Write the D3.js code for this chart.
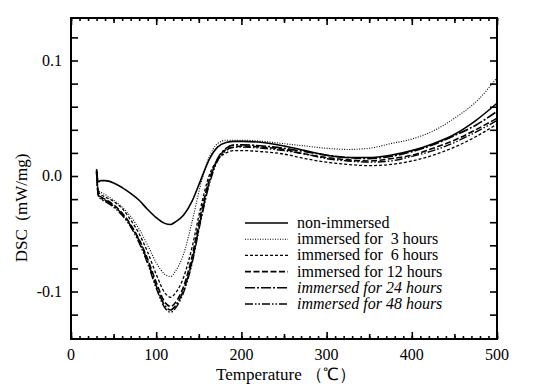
<!DOCTYPE html>
<html>
<head>
<meta charset="utf-8">
<script src="https://cdn.jsdelivr.net/npm/d3@7"></script>
<style>
  body { margin: 0; background: #fff; }
</style>
</head>
<body>
<div class="chart"></div>
<script>
var margin = {top: 18, right: 37, bottom: 45, left: 71};
var width = 534 - margin.left - margin.right;
var height = 384 - margin.top - margin.bottom;
var serif = 'Liberation Serif';

var temps = [30, 32, 35, 40, 50, 60, 70, 80, 90, 100, 110, 117, 122, 132, 142, 152,
             162, 172, 182, 192, 202, 225, 250, 275, 300, 325, 350, 375, 400, 425, 450, 475, 500];

var nonImmersed = [0.006, -0.005, -0.004, -0.004, -0.006, -0.010, -0.015, -0.021, -0.029, -0.036,
                   -0.041, -0.042, -0.040, -0.034, -0.022, -0.004, 0.014, 0.025, 0.029, 0.030, 0.030,
                   0.029, 0.026, 0.022, 0.018, 0.016, 0.016, 0.018, 0.022, 0.028, 0.036, 0.048, 0.063];
var hours3 = [0.004, -0.012, -0.014, -0.016, -0.021, -0.027, -0.035, -0.046, -0.060, -0.075,
              -0.085, -0.087, -0.083, -0.068, -0.040, -0.008, 0.016, 0.028, 0.031, 0.031, 0.031,
              0.030, 0.028, 0.026, 0.024, 0.023, 0.024, 0.028, 0.032, 0.039, 0.050, 0.064, 0.085];
var hours6 = [0.004, -0.013, -0.016, -0.018, -0.022, -0.028, -0.038, -0.050, -0.066, -0.085,
              -0.101, -0.105, -0.102, -0.088, -0.062, -0.028, 0.000, 0.014, 0.020, 0.022, 0.022,
              0.021, 0.019, 0.015, 0.012, 0.010, 0.009, 0.010, 0.013, 0.018, 0.025, 0.034, 0.045];
var hours12 = [0.004, -0.015, -0.018, -0.020, -0.025, -0.032, -0.042, -0.055, -0.072, -0.092,
               -0.109, -0.113, -0.110, -0.096, -0.070, -0.034, -0.004, 0.014, 0.023, 0.025, 0.026,
               0.025, 0.023, 0.019, 0.016, 0.014, 0.013, 0.015, 0.018, 0.024, 0.031, 0.040, 0.050];
var hours24 = [0.004, -0.016, -0.019, -0.021, -0.026, -0.033, -0.043, -0.056, -0.074, -0.095,
               -0.112, -0.116, -0.113, -0.099, -0.074, -0.038, -0.006, 0.015, 0.024, 0.027, 0.027,
               0.026, 0.024, 0.021, 0.018, 0.016, 0.015, 0.017, 0.021, 0.027, 0.035, 0.044, 0.056];
var hours48 = [0.004, -0.017, -0.020, -0.022, -0.027, -0.034, -0.044, -0.058, -0.076, -0.097,
               -0.114, -0.118, -0.115, -0.101, -0.076, -0.040, -0.008, 0.013, 0.022, 0.025, 0.025,
               0.024, 0.022, 0.019, 0.015, 0.013, 0.012, 0.013, 0.017, 0.022, 0.029, 0.038, 0.048];

var labels = ['non-immersed', 'immersed for  3 hours', 'immersed for  6 hours',
              'immersed for 12 hours', 'immersed for 24 hours', 'immersed for 48 hours'];

var xTickValues = [0, 100, 200, 300, 400, 500];
var yTickValues = [0.1, 0, -0.1];

var series = [
  {name: labels[0], values: nonImmersed, dash: null, w: 1.6, italic: false},
  {name: labels[1], values: hours3, dash: '1,1.5', w: 1.1, italic: false},
  {name: labels[2], values: hours6, dash: '3,2', w: 1.3, italic: false},
  {name: labels[3], values: hours12, dash: '6,2.5', w: 1.6, italic: false},
  {name: labels[4], values: hours24, dash: '10,2,2,2', w: 1.6, italic: true},
  {name: labels[5], values: hours48, dash: '8,2,1.5,2,1.5,2', w: 1.4, italic: true}
];

var x = d3.scaleLinear().domain([0, 500]).range([0, width]);
var y = d3.scaleLinear().domain([-0.1411, 0.1368]).range([height, 0]);

var svg = d3.select('div.chart').append('svg')
    .attr('width', 534)
    .attr('height', 384)
  .append('g')
    .attr('transform', 'translate(' + margin.left + ',' + margin.top + ')');

// frame first
svg.append('rect')
    .attr('width', width).attr('height', height)
    .attr('fill', 'none').attr('stroke', '#000').attr('stroke-width', 2);

// curves
var line = d3.line()
    .x(d => x(d[0]))
    .y(d => y(d[1]))
    .curve(d3.curveMonotoneX);

svg.selectAll('path.curve').data(series).enter().append('path')
    .attr('class', 'curve')
    .attr('d', s => line(temps.map((t, i) => [t, s.values[i]])))
    .attr('fill', 'none')
    .attr('stroke', '#000')
    .attr('stroke-width', s => s.w)
    .attr('stroke-dasharray', s => s.dash);

// inward ticks on all four sides: minor every 10, medium at 50s, major at 100s
function tickAxis(axis, values, size, transform) {
  var g = svg.append('g')
      .attr('transform', transform || null)
      .call(axis.tickValues(values).tickSize(size).tickFormat(''));
  g.select('.domain').remove();
  g.selectAll('line')
      .attr('stroke', '#000')
      .attr('stroke-width', 1.6);
}
var xMinor = d3.range(0, 501, 10);
var xMid = d3.range(50, 501, 100);
tickAxis(d3.axisBottom(x), xMinor, -3, 'translate(0,' + height + ')');
tickAxis(d3.axisBottom(x), xMid, -5, 'translate(0,' + height + ')');
tickAxis(d3.axisBottom(x), xTickValues, -7, 'translate(0,' + height + ')');
tickAxis(d3.axisTop(x), xMinor, -3);
tickAxis(d3.axisTop(x), xMid, -5);
tickAxis(d3.axisTop(x), xTickValues, -7);

var yMinor = d3.range(-12, 13, 2).map(d => d / 100);
tickAxis(d3.axisLeft(y), yMinor, -7);
tickAxis(d3.axisRight(y), yMinor, -7, 'translate(' + width + ',0)');

// tick labels
svg.selectAll('text.xlab').data(xTickValues).enter().append('text')
    .attr('class', 'xlab')
    .attr('font-family', serif)
    .attr('x', d => x(d)).attr('y', height + 21)
    .attr('text-anchor', 'middle').attr('font-size', 16)
    .text(d => d);
svg.selectAll('text.ylab').data(yTickValues).enter().append('text')
    .attr('class', 'ylab')
    .attr('font-family', serif)
    .attr('x', -9).attr('y', d => y(d) + 5)
    .attr('text-anchor', 'end').attr('font-size', 16)
    .text(d => d3.format('.1f')(d).replace('−', '-'));

svg.append('text')
    .attr('font-family', serif)
    .attr('text-anchor', 'middle')
    .attr('x', width / 2 + 2).attr('y', height + 41)
    .attr('font-size', 17)
    .text('Temperature （℃）');

svg.append('text')
    .attr('font-family', serif)
    .attr('text-anchor', 'middle')
    .attr('transform', 'rotate(-90)')
    .attr('x', -(y(0) + 32)).attr('y', -44)
    .attr('font-size', 17)
    .style('white-space', 'pre')
    .text('DSC  (mW/mg)');

// legend
var legend = svg.append('g').attr('transform', 'translate(174,205)');
var row = legend.selectAll('g').data(series).enter().append('g')
    .attr('transform', (d, i) => 'translate(0,' + (i * 16.2) + ')');
row.append('line')
    .attr('x1', 0).attr('x2', 43)
    .attr('stroke', '#000')
    .attr('stroke-width', s => s.w)
    .attr('stroke-dasharray', s => s.dash);
row.append('text')
    .attr('font-family', serif)
    .attr('x', 52).attr('y', 5)
    .attr('font-size', 16)
    .attr('font-style', s => s.italic ? 'italic' : 'normal')
    .style('white-space', 'pre')
    .text(s => s.name);
</script>
</body>
</html>
